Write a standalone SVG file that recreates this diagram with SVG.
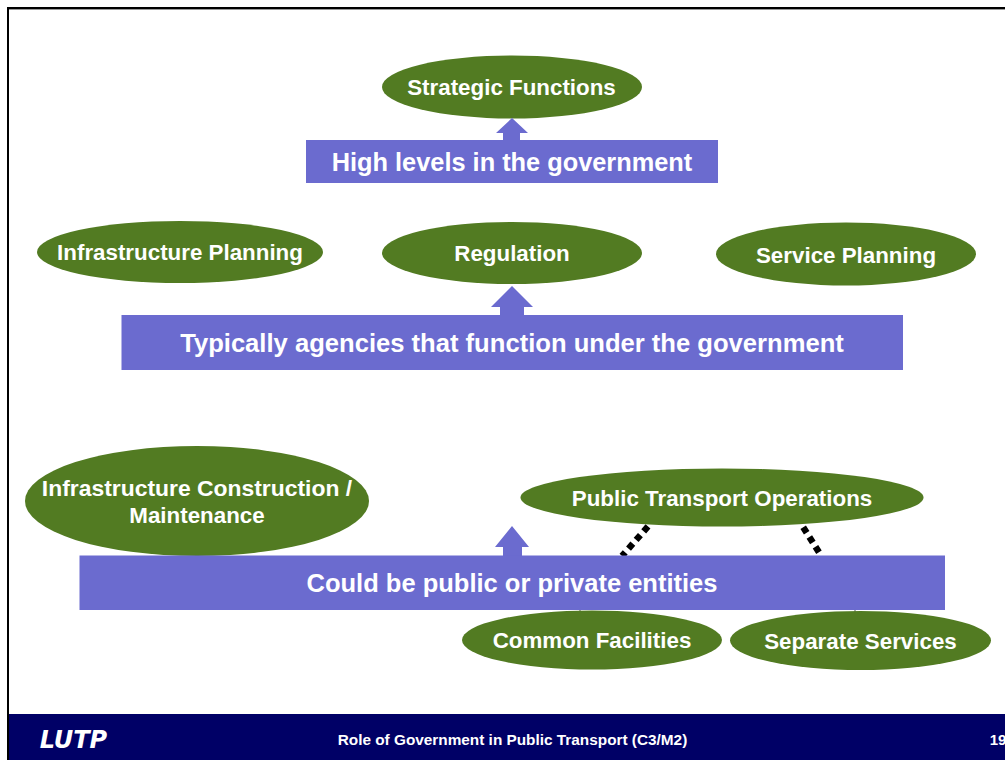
<svg xmlns="http://www.w3.org/2000/svg" width="1005" height="760" viewBox="0 0 1005 760">
<style>
text{font-family:"Liberation Sans",Arial,sans-serif;font-weight:700;fill:#fff;text-anchor:middle}
.o{fill:#527b22}
.b{fill:#6b6bcf}
.ot{font-size:22.35px}
.bt{font-size:25.5px}
.c{stroke:#000;stroke-width:6.500;stroke-dasharray:6.500 5;fill:none}
.t{stroke:#555;stroke-width:1;fill:none}
</style>
<rect width="1005" height="760" fill="#fff"/>
<path d="M8 760V8H1005" fill="none" stroke="#000" stroke-width="2"/>
<path d="M9 9.500H1005" fill="none" stroke="#999" stroke-width="1"/>
<g id="connectors">
<path class="c" d="M648 526.400L622 556"/>
<path class="c" d="M803.200 527.200L819.500 553"/>
<path class="t" d="M580 608V613M855 608V613"/>
</g>
<g id="strategic"><ellipse class="o" cx="512" cy="87" rx="130" ry="31.500"/><text class="ot" x="511.500" y="95">Strategic Functions</text></g>
<g id="high"><path class="b" d="M512 118L528 133H520V141H503V133H496Z"/><rect class="b" x="306" y="140" width="412" height="43"/><text class="bt" x="512" y="171" style="font-size:25.35px">High levels in the government</text></g>
<g id="infra-planning"><ellipse class="o" cx="180" cy="252" rx="143" ry="31"/><text class="ot" x="180" y="260">Infrastructure Planning</text></g>
<g id="regulation"><ellipse class="o" cx="512" cy="253" rx="130" ry="31"/><text class="ot" x="512" y="261">Regulation</text></g>
<g id="service-planning"><ellipse class="o" cx="846" cy="254" rx="130" ry="31.500"/><text class="ot" x="846" y="262.500">Service Planning</text></g>
<g id="agencies"><path class="b" d="M512 286L533 307H524V316H500V307H491Z"/><rect class="b" x="121.500" y="315" width="781.500" height="55"/><text class="bt" x="512" y="352" style="font-size:25.6px">Typically agencies that function under the government</text></g>
<g id="construction"><ellipse class="o" cx="197" cy="501" rx="172" ry="55"/><text class="ot" x="197" y="496" style="font-size:22.9px">Infrastructure Construction /</text><text class="ot" x="197" y="523">Maintenance</text></g>
<g id="operations"><ellipse class="o" cx="722" cy="497.500" rx="201.500" ry="29"/><text class="ot" x="722" y="506">Public Transport Operations</text></g>
<g id="entities"><path class="b" d="M512 526L529 547H522V556H503V547H495Z"/><rect class="b" x="79.500" y="555.500" width="865.500" height="54.500"/><text class="bt" x="512" y="592">Could be public or private entities</text></g>
<g id="common"><ellipse class="o" cx="592" cy="640" rx="130" ry="29.500"/><text class="ot" x="592" y="648">Common Facilities</text></g>
<g id="separate"><ellipse class="o" cx="860.500" cy="640.500" rx="130.500" ry="29.500"/><text class="ot" x="860.500" y="649">Separate Services</text></g>
<g id="footer">
<rect x="9" y="714" width="996" height="46" fill="#000066"/>
<text x="73.500" y="748" style="font-family:'DejaVu Sans',sans-serif;font-style:italic;font-size:24px">LUTP</text>
<text x="512.500" y="745" style="font-size:15.35px">Role of Government in Public Transport (C3/M2)</text>
<text x="998" y="745" style="font-size:15px">19</text>
</g>
</svg>
